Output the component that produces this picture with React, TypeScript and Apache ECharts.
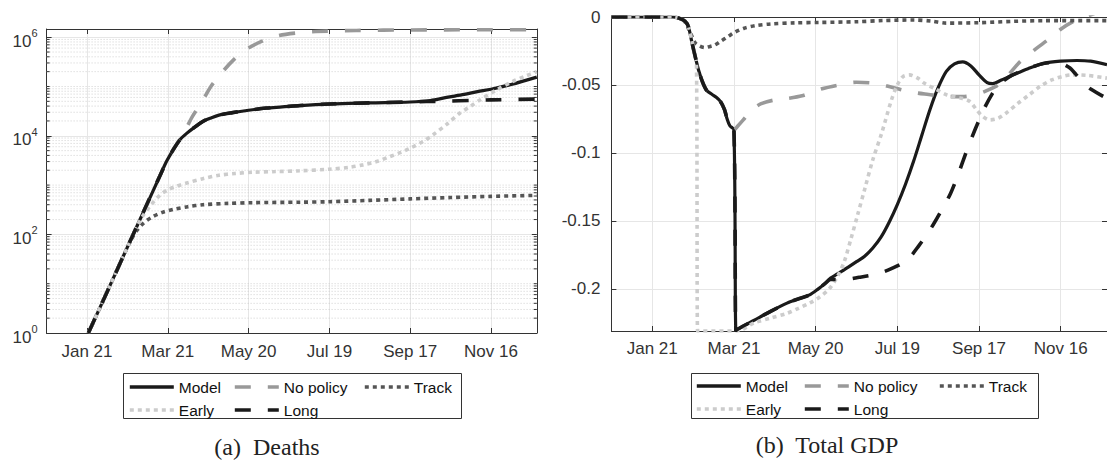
import React, { useEffect, useRef } from "react";
import * as echarts from "echarts";

// ---------- axes ----------
const X_MAX = 364; // days since 2019-12-22
const tickDays = [30, 90, 150, 210, 270, 330];
const tickLabels = ["Jan 21", "Mar 21", "May 20", "Jul 19", "Sep 17", "Nov 16"];
const deathsMajorExp = [0, 2, 4, 6];
const deathsMaxExp = 6.166;
const gdpTicks = [-0.2, -0.15, -0.1, -0.05, 0];
const gdpMin = -0.231;

// ---------- legend ----------
const legendColumns = [["Model", "Early"], ["No policy", "Long"], ["Track"]];

// ---------- (a) Deaths: [day, deaths] ----------
const deathsModel = [
  [31, 1], [45, 6.9], [60, 55], [75, 437], [84, 1510], [89, 3000], [94, 5200], [99, 8300],
  [104, 11200], [110, 15000], [116, 19500], [122, 23000], [128, 26300], [138, 29500], [150, 33000],
  [163, 36500], [175, 38500], [188, 41000], [209, 44000], [240, 46500], [270, 48500], [285, 52000],
  [297, 60000], [310, 69000], [320, 78500], [330, 88000], [345, 110000], [364, 155000],
];
const deathsNoPolicy = [
  [31, 1], [45, 6.9], [60, 55], [75, 437], [84, 1510], [89, 3000], [94, 5200], [102, 11500],
  [108, 24000], [115, 47000], [122, 100000], [130, 190000], [139, 350000], [148, 560000],
  [160, 830000], [172, 1070000], [186, 1220000], [200, 1300000], [230, 1370000], [270, 1400000],
  [320, 1415000], [364, 1420000],
];
const deathsTrack = [
  [31, 1], [45, 6.9], [58, 42], [63, 80], [67, 120], [72, 170], [79, 230], [86, 280], [94, 320],
  [105, 365], [116, 400], [135, 425], [153, 440], [188, 450], [210, 460], [240, 490], [270, 525],
  [300, 560], [330, 590], [364, 620],
];
const deathsEarly = [
  [31, 1], [45, 6.9], [60, 55], [67, 145], [72, 250], [78, 410], [84, 620], [90, 800], [97, 960],
  [104, 1100], [116, 1350], [128, 1580], [140, 1720], [153, 1820], [170, 1880], [188, 1950],
  [210, 2100], [225, 2300], [235, 2570], [245, 3000], [255, 3800], [263, 4600], [270, 5600],
  [280, 7800], [287, 10500], [297, 17000], [307, 29000], [315, 40000], [322, 54000], [334, 85000],
  [346, 126000], [355, 160000], [364, 200000],
];
const deathsLongTail = [[282, 49500], [297, 50500], [315, 52000], [330, 53500], [364, 55500]];
const deathsLong = deathsModel.filter(([d]) => d <= 270).concat(deathsLongTail);

// ---------- (b) Total GDP: [day, deviation] ----------
const gdpModel = [
  [0, 0], [30, 0], [45, 0], [50, -0.001], [54, -0.003], [56.5, -0.007], [59, -0.018], [62, -0.031],
  [64, -0.039], [67, -0.048], [70, -0.054], [74, -0.057], [77, -0.059], [80, -0.062], [83, -0.068],
  [85, -0.075], [87, -0.08], [90, -0.083], [91.5, -0.2305], [93, -0.2295], [105, -0.223],
  [117, -0.2165], [129, -0.2105], [137, -0.2075], [145.6, -0.2044], [152, -0.2], [157, -0.196],
  [161, -0.192], [166, -0.189], [174, -0.184], [180, -0.18], [186, -0.176], [192, -0.17],
  [198, -0.162], [204, -0.151], [210, -0.138], [216, -0.123], [222, -0.106], [228, -0.087],
  [234, -0.068], [240, -0.052], [246, -0.04], [252, -0.0345], [258, -0.033], [264, -0.036],
  [270, -0.0426], [276, -0.0483], [280, -0.049], [286, -0.0466], [294, -0.043], [306, -0.038],
  [318, -0.034], [330, -0.0325], [342, -0.032], [352, -0.0325], [364, -0.035],
];
const gdpNoPolicyTail = [
  [93, -0.08], [97, -0.0755], [103, -0.0685], [110, -0.0638], [120, -0.061], [129, -0.06],
  [140, -0.058], [154, -0.053], [167, -0.05], [180, -0.048], [193, -0.0487], [206, -0.0517],
  [220, -0.0552], [233, -0.057], [246, -0.0585], [258, -0.0586], [268, -0.057], [276, -0.054],
  [284, -0.05], [292, -0.042], [300, -0.033], [311, -0.024], [322, -0.0157], [330, -0.009],
  [338, -0.004], [345, -0.001], [364, 0.006],
];
const gdpNoPolicy = gdpModel.filter(([d]) => d <= 90).concat(gdpNoPolicyTail);
const gdpTrack = [
  [0, 0], [30, 0], [45, 0], [50, -0.001], [54, -0.0035], [57, -0.0095], [59.5, -0.015],
  [61.5, -0.019], [65, -0.0215], [68.7, -0.0225], [72, -0.0218], [76, -0.0206], [80, -0.018],
  [85.5, -0.0145], [91, -0.011], [97.5, -0.0083], [106, -0.0063], [117, -0.0051], [135, -0.0043],
  [153, -0.004], [180, -0.0035], [200, -0.0026], [222, -0.0022], [235, -0.003], [246, -0.0045],
  [270, -0.0042], [295, -0.0032], [318, -0.0027], [364, -0.0027],
];
const gdpEarly = [
  [0, 0], [30, 0], [45, 0], [50, -0.001], [54, -0.003], [56.5, -0.007], [59, -0.017], [61, -0.026],
  [62.5, -0.035], [63.3, -0.231], [64.5, -0.231], [92, -0.231], [105, -0.225], [117, -0.2215],
  [129, -0.218], [137, -0.2145], [145.6, -0.2105], [153, -0.206], [160, -0.2], [166, -0.191],
  [171, -0.18], [176, -0.163], [181, -0.145], [186.5, -0.125], [192, -0.105], [198.5, -0.0855],
  [205.7, -0.061], [210, -0.05], [214, -0.044], [219, -0.0426], [225, -0.045], [230, -0.0488],
  [238, -0.053], [246.5, -0.0574], [256, -0.0595], [263, -0.062], [268, -0.068], [272, -0.0725],
  [277.8, -0.0757], [284, -0.0745], [289.8, -0.0708], [298, -0.064], [306.6, -0.0574], [315, -0.051],
  [323.4, -0.0463], [331, -0.0438], [338, -0.0426], [350, -0.043], [364, -0.045],
];
const gdpLongTail = [
  [161, -0.193], [170, -0.1932], [182, -0.1915], [195, -0.189], [206, -0.185], [217, -0.179],
  [226, -0.168], [235, -0.155], [242, -0.143], [249, -0.13], [255, -0.115], [260, -0.101],
  [265, -0.088], [270, -0.076], [275, -0.065], [280, -0.056], [284, -0.05], [288, -0.047],
  [294, -0.043], [306, -0.038], [318, -0.034], [328, -0.0335], [336, -0.037], [341, -0.042],
  [346, -0.048], [352, -0.053], [364, -0.06],
];
const gdpLong = gdpModel.filter(([d]) => d <= 157).concat(gdpLongTail);

// ---------- styles ----------
const FONT = "Liberation Sans";
const AXIS = "#333333";
const GRIDC = "#e6e6e6";
const lineStyles: Record<string, any> = {
  Model: { color: "#1a1a1a", width: 3.2, type: "solid" },
  "No policy": { color: "#999999", width: 3.6, type: [16, 17] },
  Track: { color: "#555555", width: 3.6, type: [4, 4] },
  Early: { color: "#cccccc", width: 3.6, type: [4, 4] },
  Long: { color: "#1a1a1a", width: 3.6, type: [16, 17] },
};

function lineSeries(name: string, data: number[][], xIdx: number, yIdx: number, tf: (v: number) => number) {
  const s = lineStyles[name];
  return {
    type: "line",
    name,
    xAxisIndex: xIdx,
    yAxisIndex: yIdx,
    data: data.map(([d, v]) => [d, tf(v)]),
    symbol: "none",
    showSymbol: false,
    smooth: 0.3,
    silent: true,
    lineStyle: { color: s.color, width: s.width, type: s.type, cap: "butt" },
    itemStyle: { color: s.color },
  };
}

const minorExp: number[] = [];
for (let k = 0; k < 6; k++) {
  for (let m = 1; m <= 9; m++) {
    const e = k + Math.log10(m);
    if (m === 1 && k % 2 === 0) continue;
    if (e < deathsMaxExp) minorExp.push(e);
  }
}

function buildOption() {
  const xAxisBase = (grid: number, pos: string, labels: boolean) => ({
    type: "value",
    gridIndex: grid,
    position: pos,
    min: 0,
    max: X_MAX,
    axisLine: { show: true, onZero: false, lineStyle: { color: AXIS, width: 1 } },
    axisTick: { show: true, inside: true, length: 5, customValues: tickDays, lineStyle: { color: AXIS } },
    axisLabel: {
      show: labels,
      customValues: tickDays,
      margin: grid === 0 ? 10 : 9,
      fontSize: 17,
      fontFamily: FONT,
      color: AXIS,
      formatter: (v: number) => tickLabels[tickDays.indexOf(v)] ?? "",
    },
    splitLine: { show: labels, lineStyle: { color: GRIDC, width: 1 } },
  });

  const deathsY = (pos: string, labels: boolean) => ({
    type: "value",
    gridIndex: 0,
    position: pos,
    min: 0,
    max: deathsMaxExp,
    axisLine: { show: true, onZero: false, lineStyle: { color: AXIS, width: 1 } },
    axisTick: { show: true, inside: true, length: 5, customValues: deathsMajorExp, lineStyle: { color: AXIS } },
    axisLabel: {
      show: labels,
      customValues: deathsMajorExp,
      margin: 9,
      formatter: (v: number) => `{b|10}{s|${v}}`,
      rich: {
        b: { fontSize: 17, fontFamily: FONT, color: AXIS, padding: [8, 0, 0, 0] },
        s: { fontSize: 11, fontFamily: FONT, color: AXIS, padding: [0, 0, 8, 0] },
      },
    },
    splitLine: { show: labels, lineStyle: { color: GRIDC, width: 1 } },
  });

  const gdpY = (pos: string, labels: boolean) => ({
    type: "value",
    gridIndex: 1,
    position: pos,
    min: gdpMin,
    max: 0,
    axisLine: { show: true, onZero: false, lineStyle: { color: AXIS, width: 1 } },
    axisTick: { show: true, inside: true, length: 5, customValues: gdpTicks, lineStyle: { color: AXIS } },
    axisLabel: {
      show: labels,
      customValues: gdpTicks,
      margin: 11,
      fontSize: 17,
      fontFamily: FONT,
      color: AXIS,
      formatter: (v: number) => String(Math.round(v * 100) / 100),
    },
    splitLine: { show: labels, lineStyle: { color: GRIDC, width: 1 } },
  });

  const log10 = (v: number) => Math.log10(v);
  const id = (v: number) => v;

  const legends: any[] = [];
  const legendPos = [
    { lefts: [128, 233, 363], top: 379 },
    { lefts: [695, 803, 938], top: 378 },
  ];
  legendPos.forEach((lp) => {
    legendColumns.forEach((col, i) => {
      legends.push({
        orient: "vertical",
        left: lp.lefts[i],
        top: lp.top,
        padding: 0,
        itemGap: 7,
        itemWidth: 44,
        itemHeight: 14,
        selectedMode: false,
        data: col,
        itemStyle: { opacity: 0 },
        lineStyle: { width: 3.6 },
        textStyle: { fontSize: 15.5, fontFamily: FONT, color: "#111" },
      });
    });
  });

  return {
    animation: false,
    backgroundColor: "#ffffff",
    textStyle: { fontFamily: FONT },
    grid: [
      { left: 46.6, top: 29, width: 490.2, height: 304 },
      { left: 611.4, top: 17, width: 504.7, height: 314 },
    ],
    xAxis: [
      xAxisBase(0, "bottom", true),
      xAxisBase(0, "top", false),
      xAxisBase(1, "bottom", true),
      xAxisBase(1, "top", false),
    ],
    yAxis: [deathsY("left", true), deathsY("right", false), gdpY("left", true), gdpY("right", false)],
    legend: legends,
    series: [
      {
        type: "custom",
        name: "minor-grid",
        xAxisIndex: 0,
        yAxisIndex: 0,
        silent: true,
        z: 1,
        data: minorExp.map((e) => [0, e]),
        encode: { x: 0, y: 1 },
        renderItem: (params: any, api: any) => {
          const y = api.value(1);
          const a = api.coord([0, y]);
          const b = api.coord([X_MAX, y]);
          return {
            type: "group",
            children: [
              { type: "line", shape: { x1: a[0], y1: a[1], x2: b[0], y2: b[1] }, style: { stroke: "#c4c4c4", lineWidth: 0.8, lineDash: [1, 2] } },
              { type: "line", shape: { x1: a[0], y1: a[1], x2: a[0] + 3, y2: a[1] }, style: { stroke: AXIS, lineWidth: 1 } },
              { type: "line", shape: { x1: b[0] - 3, y1: b[1], x2: b[0], y2: b[1] }, style: { stroke: AXIS, lineWidth: 1 } },
            ],
          };
        },
      },
      lineSeries("Model", deathsModel, 0, 0, log10),
      lineSeries("No policy", deathsNoPolicy, 0, 0, log10),
      lineSeries("Track", deathsTrack, 0, 0, log10),
      lineSeries("Early", deathsEarly, 0, 0, log10),
      lineSeries("Long", deathsLong, 0, 0, log10),
      lineSeries("Model", gdpModel, 2, 2, id),
      lineSeries("No policy", gdpNoPolicy, 2, 2, id),
      lineSeries("Track", gdpTrack, 2, 2, id),
      lineSeries("Early", gdpEarly, 2, 2, id),
      lineSeries("Long", gdpLong, 2, 2, id),
    ],
    graphic: [
      { type: "rect", z: 0, silent: true, shape: { x: 123.5, y: 373.5, width: 338, height: 45 }, style: { fill: "none", stroke: "#333", lineWidth: 1 } },
      { type: "rect", z: 0, silent: true, shape: { x: 691.5, y: 373.5, width: 347, height: 45 }, style: { fill: "none", stroke: "#333", lineWidth: 1 } },
      { type: "text", silent: true, x: 267, y: 447, style: { text: "(a)  Deaths", fontSize: 24, fontFamily: "Liberation Serif", fill: "#222", align: "center", verticalAlign: "middle" } },
      { type: "text", silent: true, x: 827, y: 445, style: { text: "(b)  Total GDP", fontSize: 24, fontFamily: "Liberation Serif", fill: "#222", align: "center", verticalAlign: "middle" } },
    ],
  };
}

export default function App() {
  const ref = useRef<HTMLDivElement>(null);
  useEffect(() => {
    document.body.style.margin = "0";
    if (!ref.current) return;
    const chart = echarts.init(ref.current, undefined, { renderer: "svg" });
    chart.setOption(buildOption() as any);
    return () => chart.dispose();
  }, []);
  return <div ref={ref} style={{ width: 1107, height: 460, overflow: "hidden" }} />;
}
